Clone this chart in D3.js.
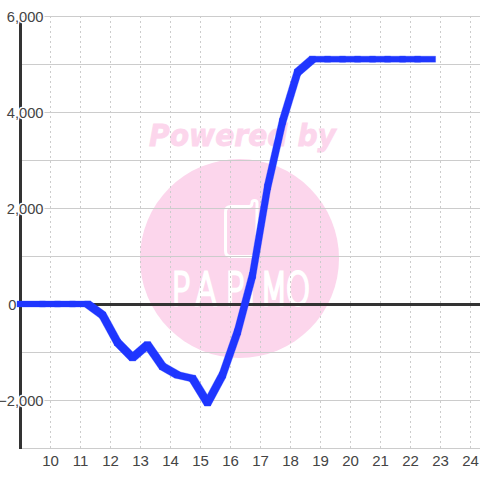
<!DOCTYPE html>
<html><head><meta charset="utf-8">
<script src="https://cdnjs.cloudflare.com/ajax/libs/d3/7.8.5/d3.min.js"></script>
<style>html,body{margin:0;padding:0;background:#fff}svg{display:block}text{font-family:"Liberation Sans",Arial,sans-serif}</style>
</head><body><svg id="c" width="480" height="480"></svg>
<script>
const hours = [9,9.75,10.25,10.75,11.25,11.75,12.25,12.75,13.25,13.75,14.25,14.75,15.25,15.75,16.25,16.75,17.25,17.75,18.25,18.75,19.25,19.75,20.25,20.75,21.25,21.75,22.25,22.75];
const values = [0,0,0,0,0,-230,-800,-1120,-850,-1300,-1480,-1550,-2060,-1480,-580,600,2440,3800,4830,5100,5100,5100,5100,5100,5100,5100,5100,5100];
const xTicks = [10,11,12,13,14,15,16,17,18,19,20,21,22,23,24];
const yLabelled = [6000,4000,2000,0,-2000];
const yGrid = [6000,5000,4000,3000,2000,1000,-1000,-2000,-3000];
const logoLetters = "PAPIMO";
const logoCentres = [181,206,235,251,274,298];

const svg = d3.select("#c");
const x = d3.scaleLinear().domain([9,24.33]).range([20,480]);
const y = d3.scaleLinear().domain([6000,-3000]).range([16,448]);
const pink = "#fcd6ec";
const logoScale = 0.72;

// watermark
svg.append("circle").attr("cx",239.5).attr("cy",258.5).attr("r",99.5).attr("fill",pink);
svg.append("text").attr("x",149).attr("y",146).attr("textLength",187).attr("lengthAdjust","spacingAndGlyphs")
  .attr("font-size",30).attr("font-weight","bold").attr("font-style","italic")
  .style("font-family","'DejaVu Sans'").attr("fill",pink).attr("stroke",pink).attr("stroke-width",0.8).text("Powered by");
svg.append("path").attr("fill","none").attr("stroke","#fff").attr("stroke-width",3).attr("stroke-linecap","round")
  .attr("d","M249 206.5H231Q225.5 206.5 225.5 212V251Q225.5 256.5 231 256.5H252Q257 256.5 257 251V203Q257 200.5 254.5 200.5Q252 200.5 252 203Q252 206.5 249 206.5Z");
svg.append("text").attr("transform",`translate(0,305) scale(${logoScale},1)`)
  .attr("x",logoCentres.map(c=>c/logoScale).join(" ")).attr("y",0).attr("text-anchor","middle")
  .attr("font-size",44).style("font-family","'DejaVu Sans'").attr("font-weight",200)
  .attr("fill","#fff").attr("stroke","#fff").attr("stroke-width",2.8).text(logoLetters);

// grid
svg.append("g").selectAll("line").data(yGrid).join("line")
  .attr("x1",20).attr("x2",480).attr("y1",d=>Math.round(y(d))+.5).attr("y2",d=>Math.round(y(d))+.5)
  .attr("stroke","#ccc").attr("stroke-width",1);
svg.append("g").selectAll("line").data(xTicks).join("line")
  .attr("x1",d=>Math.floor(x(d))+.5).attr("x2",d=>Math.floor(x(d))+.5).attr("y1",16).attr("y2",448)
  .attr("stroke","#ccc").attr("stroke-width",1).attr("stroke-dasharray","2,3");

// axes
svg.append("line").attr("x1",20.5).attr("x2",20.5).attr("y1",16).attr("y2",449).attr("stroke","#333").attr("stroke-width",3);
svg.append("line").attr("x1",20).attr("x2",480).attr("y1",y(0)+.5).attr("y2",y(0)+.5).attr("stroke","#333").attr("stroke-width",3);

// labels
svg.append("g").selectAll("text").data(xTicks).join("text")
  .attr("x",d=>x(d)+.5).attr("y",466).attr("text-anchor","middle").attr("font-size",15).attr("fill","#444").text(d=>d);
svg.append("g").selectAll("text").data(yLabelled).join("text")
  .attr("x",d=>d===0?16.5:43.5).attr("y",d=>y(d)+5.5).attr("text-anchor","end").attr("font-size",14.7).attr("fill","#444")
  .attr("stroke","#fff").attr("stroke-width",3).attr("paint-order","stroke").text(d=>d3.format(",")(d));

// series: each segment is swept by a square pen, as in the reference
const pen = 3;
const pts = hours.map((h,i)=>[x(h),y(values[i])]);
const corners = p => [[p[0]-pen,p[1]-pen],[p[0]+pen,p[1]-pen],[p[0]+pen,p[1]+pen],[p[0]-pen,p[1]+pen]];
svg.append("g").selectAll("path").data(d3.pairs(pts)).join("path")
  .attr("fill","#1f36ff").attr("stroke","#1f36ff").attr("stroke-width",0.3)
  .attr("d",([a,b])=>"M"+d3.polygonHull([...corners(a),...corners(b)]).join("L")+"Z");
</script></body></html>
